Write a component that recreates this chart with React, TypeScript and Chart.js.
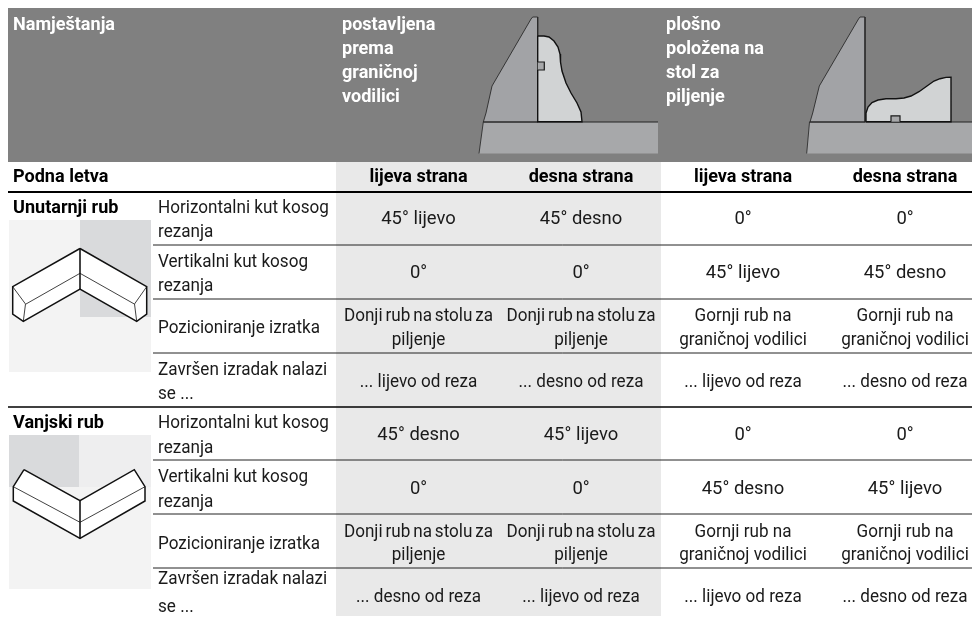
import React, { useEffect, useRef } from "react";
import { Chart, registerables } from "chart.js";

Chart.register(...registerables);

type P = [number, number];

// ---- table text ----
const headerTitle = "Namještanja";
const headerColA = ["postavljena", "prema", "graničnoj", "vodilici"];
const headerColB = ["plošno", "položena na", "stol za", "piljenje"];
const subTitle = "Podna letva";
const subColumns = ["lijeva strana", "desna strana", "lijeva strana", "desna strana"];
const blockTitles = ["Unutarnji rub", "Vanjski rub"];
const rowLabels = [
  ["Horizontalni kut kosog", "rezanja"],
  ["Vertikalni kut kosog", "rezanja"],
  ["Pozicioniranje izratka"],
  ["Završen izradak nalazi", "se ..."],
];
const innerCells = [
  [["45° lijevo"], ["45° desno"], ["0°"], ["0°"]],
  [["0°"], ["0°"], ["45° lijevo"], ["45° desno"]],
  [["Donji rub na stolu za", "piljenje"], ["Donji rub na stolu za", "piljenje"], ["Gornji rub na", "graničnoj vodilici"], ["Gornji rub na", "graničnoj vodilici"]],
  [["... lijevo od reza"], ["... desno od reza"], ["... lijevo od reza"], ["... desno od reza"]],
];
const outerCells = [
  [["45° desno"], ["45° lijevo"], ["0°"], ["0°"]],
  [["0°"], ["0°"], ["45° desno"], ["45° lijevo"]],
  [["Donji rub na stolu za", "piljenje"], ["Donji rub na stolu za", "piljenje"], ["Gornji rub na", "graničnoj vodilici"], ["Gornji rub na", "graničnoj vodilici"]],
  [["... desno od reza"], ["... lijevo od reza"], ["... lijevo od reza"], ["... desno od reza"]],
];

// ---- layout in scale units ----
const columnCentres = [418.5, 581, 743, 905];
const innerBaselines = [[224], [278], [321, 344.5], [386.5]];
const outerBaselines = [[440], [494], [537, 560], [602]];
const innerLabelBaselines = [[213, 237], [267, 291], [333], [375, 398.5]];
const outerLabelBaselines = [[428, 452.5], [482, 506.5], [548.5], [584, 612]];
const headerBaselines = [30, 54, 78, 102];

// ---- illustration outlines ----
const fenceA: P[] = [[532.7, 17], [537.7, 17], [537.7, 122], [483.3, 122], [486, 113], [492, 86], [531, 19], [532.7, 17]];
const tableA: P[] = [[483.3, 122], [658, 122], [658, 153.5], [479, 153.5]];
const tableEdgeA: P[] = [[483.3, 122], [479, 153.5]];
const tableTopA: P[] = [[483.3, 122], [658, 122]];
const profileA: P[] = [[537.7, 36], [544, 36], [549, 37], [554, 41], [558, 47], [560, 54], [560.5, 62], [562, 71], [566, 83], [571, 93], [577, 103], [581, 112], [582, 121.7], [537.7, 121.7], [537.7, 36]];
const notchA: P[] = [[537.7, 62], [544.3, 62], [544.3, 70], [537.7, 70]];
const fenceB: P[] = [[860, 17], [865, 17], [865, 122], [810, 122], [812.7, 113], [819.3, 86], [858.5, 19], [860, 17]];
const tableB: P[] = [[809.5, 122], [972, 122], [972, 153.5], [806.7, 153.5]];
const tableEdgeB: P[] = [[809.5, 122], [806.7, 153.5]];
const tableTopB: P[] = [[809.5, 122], [972, 122]];
const profileB: P[] = [[866, 121.7], [866, 113], [868, 107], [872, 102.5], [878, 100], [886, 98.8], [896, 98.7], [904, 98], [911, 96], [919, 91.7], [927, 86], [934, 81], [940, 78.7], [946, 77.4], [951, 77.3], [951, 121.7], [866, 121.7]];
const notchB: P[] = [[891, 121.7], [891, 115.8], [900, 115.8], [900, 121.7]];

const innerSolid: P[] = [[80, 248.5], [146.7, 286.7], [146.7, 314], [136.7, 321.3], [80, 289], [23.3, 321.3], [12.7, 314], [12.7, 286.7], [80, 248.5]];
const innerThin: P[][] = [
  [[26, 304], [80, 273.3], [134.3, 304]],
  [[80, 248.5], [80, 289]],
  [[12.7, 286.7], [25.5, 304], [23.3, 321.3]],
  [[146.7, 286.7], [134.5, 304], [136.7, 321.3]],
];
const outerSolid: P[] = [[24, 469.7], [80, 500.7], [134.3, 469.7], [145, 486.7], [145, 501], [80, 538.3], [13.3, 501], [13.3, 486.7], [24, 469.7]];
const outerThin: P[][] = [
  [[13.3, 486.7], [80, 522.3], [145, 486.7]],
  [[80, 500.7], [80, 538.3]],
];

// ---- backgrounds and rules ----
const headerBand: P[] = [[8, 8], [972, 8], [972, 162], [8, 162]];
const shadedColumn: P[] = [[336, 162], [661, 162], [661, 616], [336, 616]];
const innerPanel: P[] = [[9, 220], [151, 220], [151, 372], [9, 372]];
const innerPanelDark: P[] = [[80, 220], [151, 220], [151, 317], [80, 317]];
const outerPanel: P[] = [[9, 435], [151, 435], [151, 589], [9, 589]];
const outerPanelTop: P[] = [[79, 435], [151, 435], [151, 487], [79, 487]];
const outerPanelDark: P[] = [[9, 435], [79, 435], [79, 487], [9, 487]];
const thickRules: number[][] = [[8, 972, 192, 2], [8, 972, 407, 1.5]];
const thinRules: number[][] = [[153, 972, 245], [153, 972, 299], [153, 972, 353], [153, 972, 460], [153, 972, 514], [153, 972, 568]];

const BLACK = "#111111";
const poly = (points: P[], fill: string | null, stroke: string | null, width = 0) => ({
  data: points.map(([x, y]) => ({ x, y })),
  showLine: true,
  pointRadius: 0,
  tension: 0,
  fill: fill ? "shape" : false,
  backgroundColor: fill ?? "transparent",
  borderColor: stroke ?? "transparent",
  borderWidth: stroke ? width : 0,
  borderJoinStyle: "miter" as const,
});

const layers = [
  poly(headerBand, "#808080", null),
  poly(shadedColumn, "#e9e9e9", null),
  poly(innerPanel, "#f3f3f3", null),
  poly(innerPanelDark, "#d9dadc", null),
  poly(outerPanel, "#f3f3f3", null),
  poly(outerPanelTop, "#eeeeef", null),
  poly(outerPanelDark, "#d9dadc", null),
  poly(tableA, "#a7a8aa", null),
  poly(tableEdgeA, null, "#222222", 0.8),
  poly(fenceA, "#a2a3a6", "#2a2a2a", 0.9),
  poly(tableTopA, null, "#222222", 1.2),
  poly(profileA, "#d1d3d4", "#111111", 1.4),
  poly(notchA, "#a7a8aa", "#1a1a1a", 1.2),
  poly(tableB, "#a7a8aa", null),
  poly(tableEdgeB, null, "#222222", 0.8),
  poly(fenceB, "#a2a3a6", "#2a2a2a", 0.9),
  poly(tableTopB, null, "#222222", 1.2),
  poly(profileB, "#d1d3d4", "#111111", 1.4),
  poly(notchB, "#a7a8aa", "#1a1a1a", 1.2),
  ...thickRules.map(([a, b, y, w]) => poly([[a, y], [b, y]], null, "#000000", w)),
  ...thinRules.map(([a, b, y]) => poly([[a, y], [b, y]], null, "#222222", 1)),
  poly(innerSolid, "#ffffff", BLACK, 1.5),
  ...innerThin.map((p) => poly(p, null, BLACK, 0.8)),
  poly(outerSolid, "#ffffff", BLACK, 1.5),
  ...outerThin.map((p) => poly(p, null, BLACK, 0.8)),
];

const FAMILY = "Roboto, 'Noto Sans', sans-serif";

const tablePlugin = {
  id: "tableText",
  afterDatasetsDraw(chart: any) {
    const ctx: any = chart.ctx;
    const sx = chart.scales.x;
    const sy = chart.scales.y;
    const put = (text: string, x: number, y: number, align: CanvasTextAlign, bold: boolean, color: string, squeeze: number) => {
      ctx.save();
      ctx.font = `${bold ? 700 : 400} 19px ${FAMILY}`;
      ctx.wordSpacing = text.startsWith("Donji") ? "-1.5px" : "0px";
      ctx.fillStyle = color;
      ctx.textAlign = align;
      ctx.textBaseline = "alphabetic";
      ctx.translate(sx.getPixelForValue(x), sy.getPixelForValue(y));
      ctx.scale(text.includes("°") ? 0.97 : squeeze, 1);
      ctx.fillText(text, 0, 0);
      ctx.restore();
    };
    const B = 0.95;
    const R = 0.9;
    put(headerTitle, 13, 30, "left", true, "#ffffff", B);
    headerColA.forEach((t, i) => put(t, 342, headerBaselines[i], "left", true, "#ffffff", B));
    headerColB.forEach((t, i) => put(t, 666, headerBaselines[i], "left", true, "#ffffff", B));
    put(subTitle, 13, 182, "left", true, "#000000", B);
    subColumns.forEach((t, i) => put(t, columnCentres[i], 182, "center", true, "#000000", B));
    put(blockTitles[0], 13, 213, "left", true, "#000000", B);
    put(blockTitles[1], 13, 428, "left", true, "#000000", B);
    rowLabels.forEach((lines, r) => {
      lines.forEach((t, i) => {
        put(t, 158, innerLabelBaselines[r][i], "left", false, "#1a1a1a", R);
        put(t, 158, outerLabelBaselines[r][i], "left", false, "#1a1a1a", R);
      });
    });
    const cells = (grid: string[][][], base: number[][]) =>
      grid.forEach((row, r) =>
        row.forEach((lines, c) =>
          lines.forEach((t, i) => put(t, columnCentres[c], base[r][i], "center", false, "#1a1a1a", R)),
        ),
      );
    cells(innerCells, innerBaselines);
    cells(outerCells, outerBaselines);
  },
};

export default function App() {
  const ref = useRef<HTMLCanvasElement>(null);
  useEffect(() => {
    const chart = new Chart(ref.current!, {
      type: "scatter",
      data: { datasets: [...layers].reverse() as any },
      options: {
        responsive: false,
        animation: false,
        layout: { padding: 0 },
        plugins: { legend: { display: false }, tooltip: { enabled: false }, title: { display: false } },
        scales: {
          x: { type: "linear", min: 0, max: 972, display: false },
          y: { type: "linear", min: 0, max: 617, reverse: true, display: false },
        },
      },
      plugins: [tablePlugin],
    });
    return () => chart.destroy();
  }, []);
  return (
    <div style={{ position: "absolute", left: 0, top: 0, width: 972, height: 617, background: "#fff" }}>
      <canvas ref={ref} width={972} height={617} style={{ display: "block" }} />
    </div>
  );
}
